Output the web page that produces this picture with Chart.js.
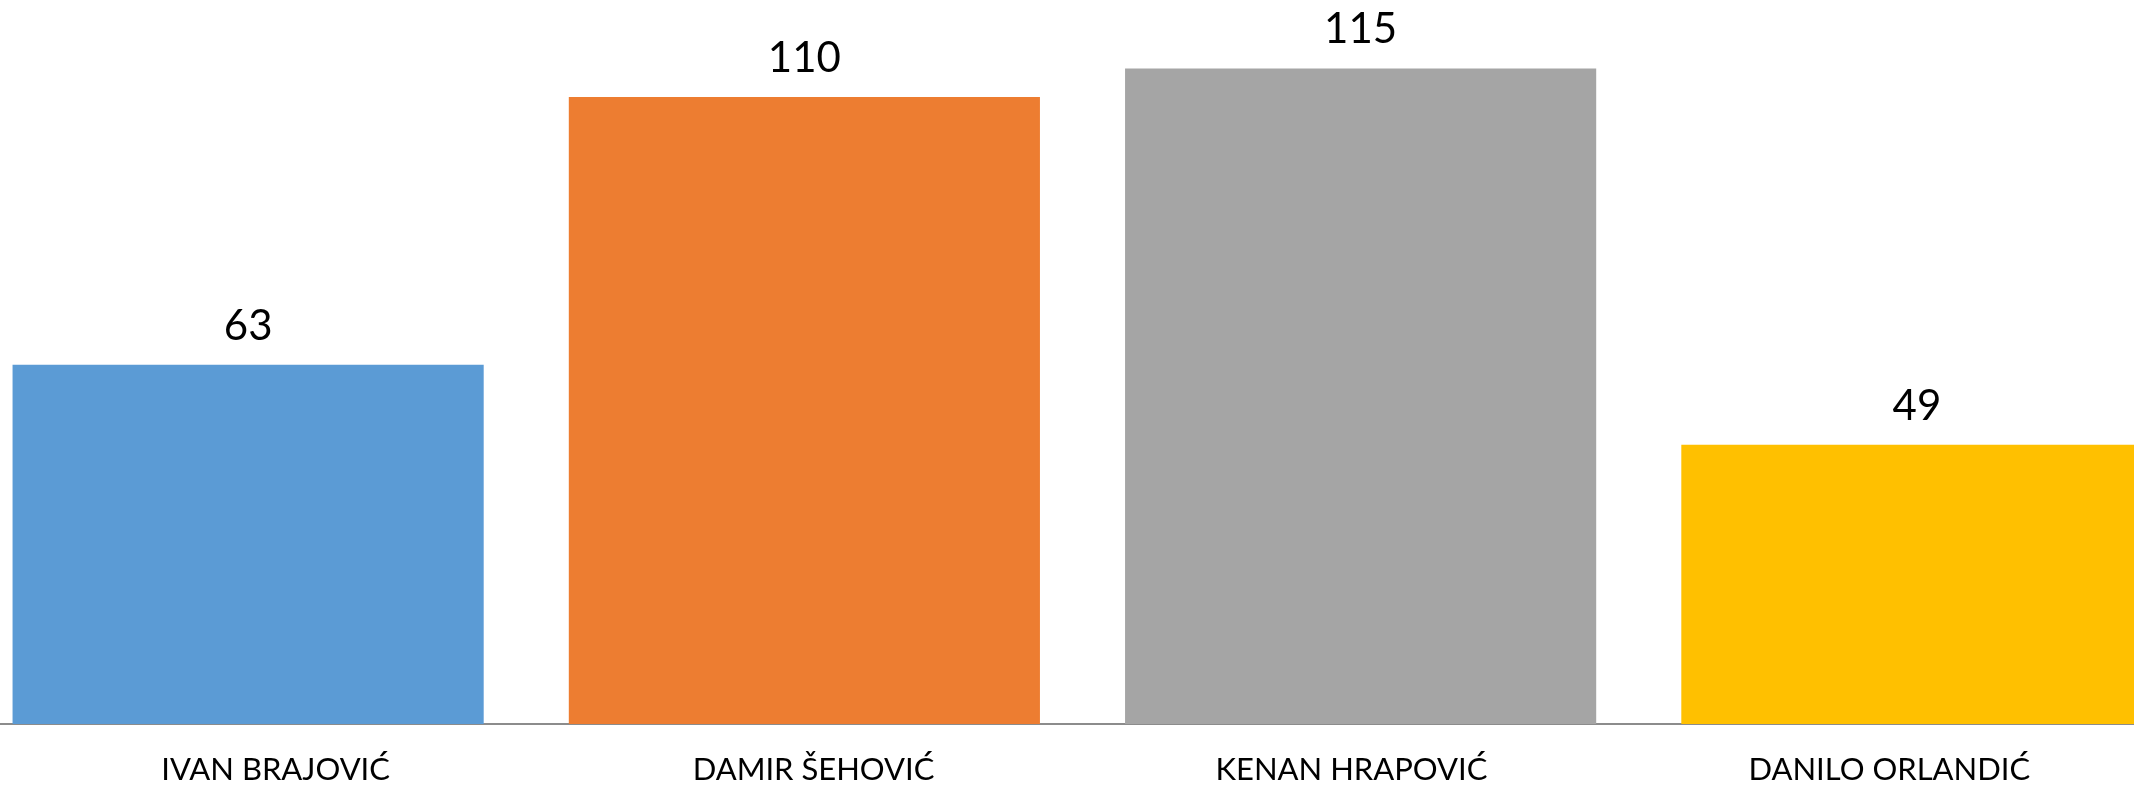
<!DOCTYPE html>
<html>
<head>
<meta charset="utf-8">
<script src="https://cdn.jsdelivr.net/npm/chart.js@4/dist/chart.umd.min.js"></script>
<style>
    html, body { margin: 0; padding: 0; background: #ffffff; overflow: hidden; }
    body { width: 2134px; height: 787px; position: relative; }
    #wrap { position: absolute; left: -30px; top: 0; width: 2225px; height: 787px; }
</style>
</head>
<body>
<div id="wrap"><canvas id="votesChart"></canvas></div>
<script>

/* =========================
   DATA
========================= */

const candidates = ['IVAN BRAJOVIĆ', 'DAMIR ŠEHOVIĆ', 'KENAN HRAPOVIĆ', 'DANILO ORLANDIĆ'];

const votes = [63, 110, 115, 49];

const barColors = ['#5B9BD5', '#ED7D31', '#A5A5A5', '#FFC000'];

/* =========================
   LABELS (values + names)
========================= */

// category labels sit a little closer together than the bars in the original
const LABEL_SPREAD = 0.967;

const labelPlugin = {
    id: 'labelPlugin',
    afterDatasetsDraw(chart){
        const ctx = chart.ctx;
        const xScale = chart.scales.x;
        const meta = chart.getDatasetMeta(0);

        ctx.save();
        ctx.fillStyle = '#000000';
        ctx.textAlign = 'center';
        ctx.textBaseline = 'alphabetic';

        ctx.font = '42px Lato';
        meta.data.forEach((bar, i) => {
            ctx.fillText(String(votes[i]), bar.x, bar.y - 25);
        });

        ctx.font = '31px Lato';
        const mid = (xScale.left + xScale.right) / 2;
        candidates.forEach((name, i) => {
            const px = xScale.getPixelForValue(i);
            ctx.fillText(name, mid + (px - mid) * LABEL_SPREAD, 780);
        });

        ctx.restore();
    }
};

/* =========================
   CHART
========================= */

Chart.defaults.font.family = 'Lato';

new Chart(document.getElementById('votesChart'), {

    type: 'bar',

    data: {
        labels: candidates,
        datasets: [{
            data: votes,
            backgroundColor: barColors,
            borderWidth: 0,
            categoryPercentage: 1,
            barPercentage: 0.847
        }]
    },

    options: {
        responsive: true,
        maintainAspectRatio: false,
        animation: false,
        layout: {
            padding: { left: 0, right: 0, top: 0, bottom: 63 }
        },
        plugins: {
            legend: { display: false },
            tooltip: { enabled: false }
        },
        scales: {
            x: {
                grid: { display: false, drawTicks: false },
                ticks: { display: false },
                border: { display: true, color: '#8C8C8C', width: 2 }
            },
            y: {
                display: false,
                min: 0,
                max: 127
            }
        }
    },

    plugins: [labelPlugin]

});

</script>
</body>
</html>
